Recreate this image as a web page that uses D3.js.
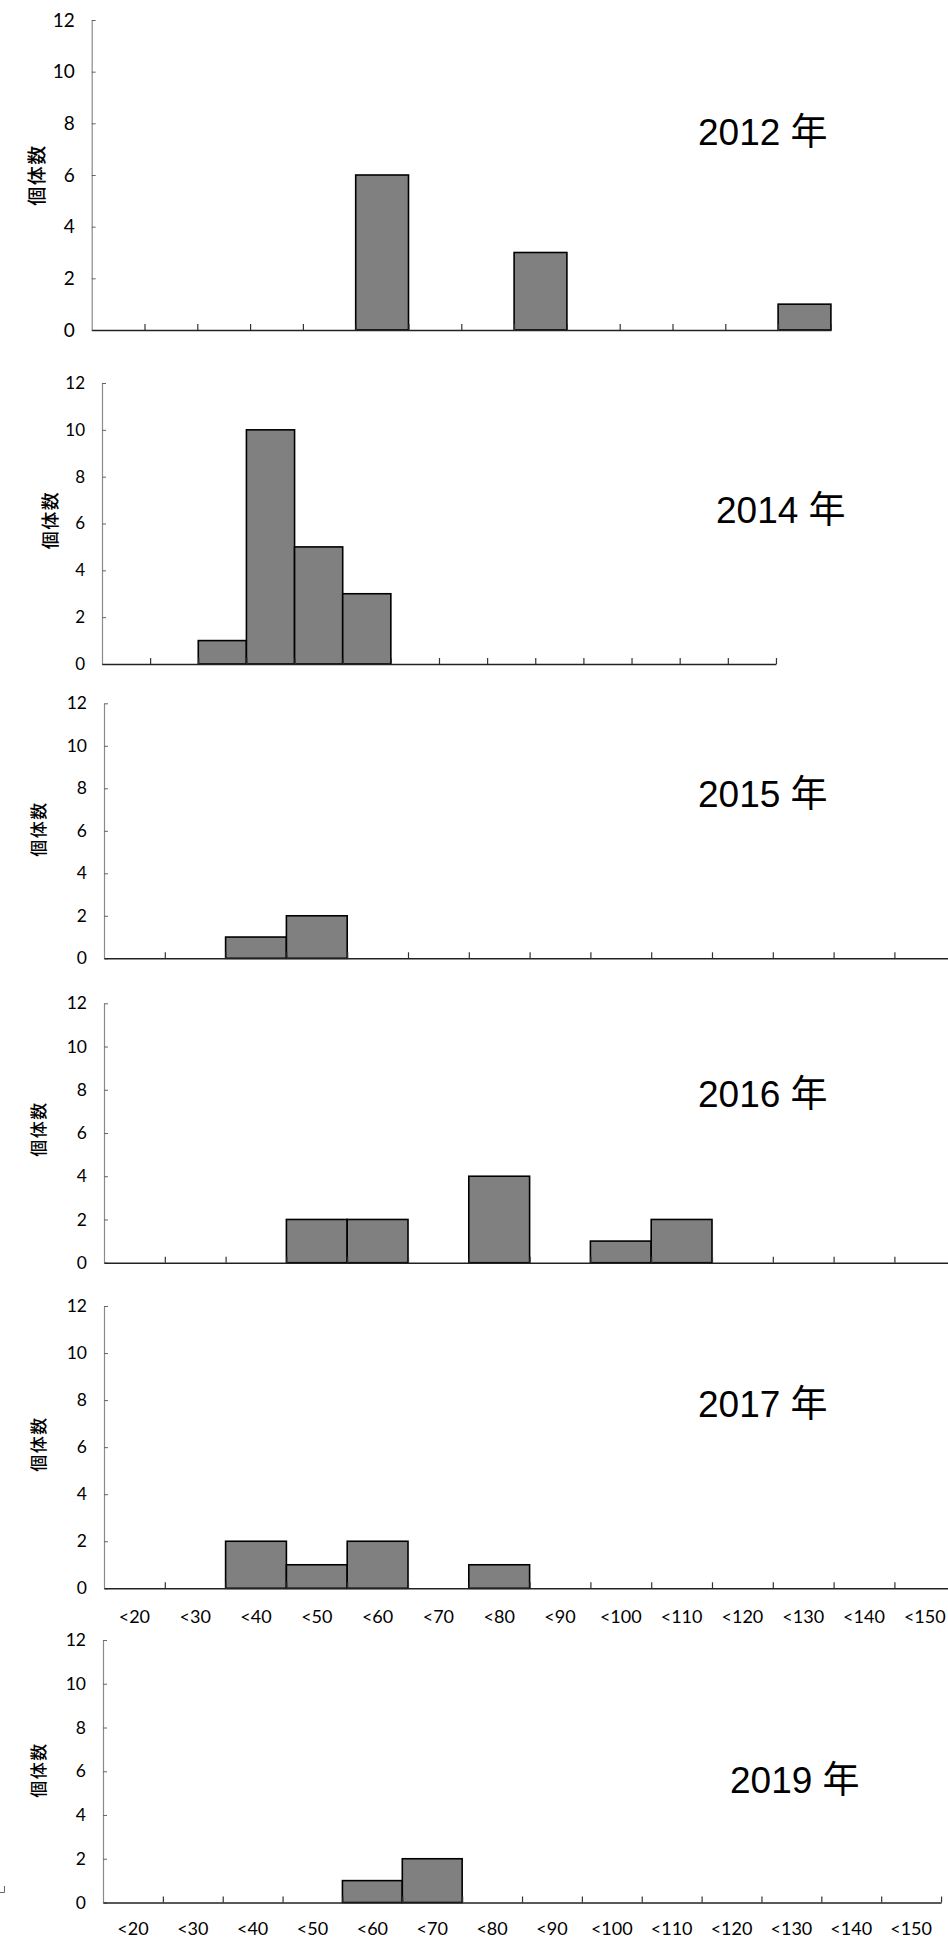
<!DOCTYPE html>
<html>
<head>
<meta charset="utf-8">
<script src="https://cdn.jsdelivr.net/npm/d3@7"></script>
<style>
  html, body { margin: 0; padding: 0; background: #fff; }
  svg { display: block; }
  .tick text { font-family: Lato, "Open Sans", sans-serif; fill: #000; }
</style>
</head>
<body>
<div id="chart"></div>
<script>
// ---- data ----
const categories = ["<20","<30","<40","<50","<60","<70","<80","<90","<100","<110","<120","<130","<140","<150"];
const yTickValues = [0, 2, 4, 6, 8, 10, 12];
const years = ["2012 年", "2014 年", "2015 年", "2016 年", "2017 年", "2019 年"];
const counts2012 = [0,0,0,0,0,6,0,0,3,0,0,0,0,1];
const counts2014 = [0,0,1,10,5,3,0,0,0,0,0,0,0,0];
const counts2015 = [0,0,1,2,0,0,0,0,0,0,0,0,0,0];
const counts2016 = [0,0,0,2,2,0,4,0,1,2,0,0,0,0];
const counts2017 = [0,0,2,1,2,0,1,0,0,0,0,0,0,0];
const counts2019 = [0,0,0,0,1,2,0,0,0,0,0,0,0,0];
const yLabel = "個体数";

// ---- layout (positions / sizes only) ----
const layout = [
  { counts: counts2012, x0: 91.7, step: 52.8,  yTop: 20,     yZero: 330,    tx: 698, ty: 145,  lx: 35, ly: 175,  lfs: 19, tfs: 19, xlab: null },
  { counts: counts2014, x0: 102,  step: 48.14, yTop: 383,    yZero: 664,    tx: 716, ty: 523,  lx: 49, ly: 520,  lfs: 18, tfs: 17, xlab: null },
  { counts: counts2015, x0: 104,  step: 60.8,  yTop: 703.3,  yZero: 958.3,  tx: 698, ty: 807,  lx: 37, ly: 829,  lfs: 17, tfs: 17.5, xlab: null },
  { counts: counts2016, x0: 104,  step: 60.8,  yTop: 1003.3, yZero: 1262.7, tx: 698, ty: 1107, lx: 37, ly: 1129, lfs: 17, tfs: 17.5, xlab: null },
  { counts: counts2017, x0: 104,  step: 60.8,  yTop: 1306,   yZero: 1588.3, tx: 698, ty: 1417, lx: 37, ly: 1444, lfs: 17, tfs: 17.5, xlab: 1623 },
  { counts: counts2019, x0: 103,  step: 59.86, yTop: 1640,   yZero: 1902.5, tx: 730, ty: 1793, lx: 37, ly: 1770, lfs: 17, tfs: 17.5, xlab: 1935 }
];

const W = 948, H = 1939;
const svg = d3.select("#chart").append("svg").attr("width", W).attr("height", H);

layout.forEach((p, i) => {
  const g = svg.append("g");
  const x1 = p.x0 + p.step * categories.length;
  const x = d3.scaleBand().domain(categories).range([p.x0, x1]).paddingInner(0).paddingOuter(0);
  const xl = d3.scaleLinear().domain([0, categories.length]).range([p.x0, x1]);
  const y = d3.scaleLinear().domain([0, 12]).range([p.yZero, p.yTop]);

  // bars
  const data = categories.map((c, k) => ({ c, v: p.counts[k] })).filter(d => d.v > 0);
  g.selectAll("rect.bar").data(data).enter().append("rect")
    .attr("class", "bar")
    .attr("x", d => x(d.c))
    .attr("width", x.bandwidth())
    .attr("y", d => y(d.v))
    .attr("height", d => y(0) - y(d.v))
    .attr("fill", "#808080")
    .attr("stroke", "#000")
    .attr("stroke-width", 1.6);

  // y axis
  const ya = g.append("g").attr("transform", `translate(${p.x0},0)`)
    .call(d3.axisLeft(y).tickValues(yTickValues).tickSizeInner(-4).tickSizeOuter(0).tickPadding(17));
  ya.select(".domain").attr("stroke", "#8a8a8a").attr("stroke-width", 1.2);
  ya.selectAll(".tick line").attr("stroke", "#666");
  ya.selectAll(".tick text").attr("font-size", p.tfs);

  // x axis (tick marks at bin boundaries)
  const xa = g.append("g").attr("transform", `translate(0,${p.yZero})`)
    .call(d3.axisBottom(xl).tickValues(d3.range(1, categories.length + 1)).tickSizeInner(-6).tickSizeOuter(0).tickFormat(""));
  xa.select(".domain").attr("stroke", "#222").attr("stroke-width", 1.6);
  xa.selectAll(".tick line").attr("stroke", "#333").attr("stroke-width", 1.2);

  // x labels
  if (p.xlab !== null) {
    g.selectAll("text.xl").data(categories).enter().append("text")
      .attr("class", "xl")
      .attr("x", d => x(d) + x.bandwidth() / 2)
      .attr("y", p.xlab)
      .attr("text-anchor", "middle")
      .attr("font-family", "Lato, 'Open Sans', sans-serif")
      .attr("font-size", 18)
      .text(d => d);
  }

  // y label
  g.append("text")
    .attr("transform", `translate(${p.lx},${p.ly}) rotate(-90)`)
    .attr("text-anchor", "middle")
    .attr("dominant-baseline", "central")
    .attr("font-family", "'Noto Sans CJK JP', sans-serif")
    .attr("font-size", p.lfs)
    .attr("font-weight", 500)
    .attr("letter-spacing", 1.5)
    .text(yLabel);

  // year title
  g.append("text")
    .attr("x", p.tx)
    .attr("y", p.ty)
    .attr("font-family", "'Liberation Sans', 'Noto Sans CJK JP', sans-serif")
    .attr("font-size", 37)
    .attr("fill", "#000")
    .text(years[i]);
});

// small stray mark at left of last panel
svg.append("path")
  .attr("d", "M4.5,1886 V1892.5 H0")
  .attr("fill", "none")
  .attr("stroke", "#666")
  .attr("stroke-width", 1);
</script>
</body>
</html>
